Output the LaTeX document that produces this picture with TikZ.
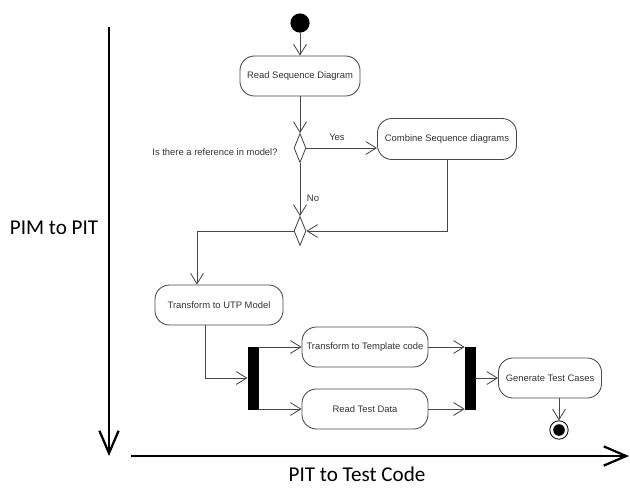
\documentclass[tikz,border=0pt]{standalone}
\usepackage{fontspec}
\setmainfont{Liberation Sans}
\newfontfamily\axisfont{Carlito}
\usetikzlibrary{arrows.meta,positioning,calc,shapes.geometric}
\colorlet{umlgray}{black!72}
\tikzset{
  action/.style={rectangle, rounded corners=3.6mm, draw=umlgray, line width=0.6pt, minimum height=10mm, inner sep=1pt, text=black!80, font=\fontsize{6.7}{8}\selectfont},
  decision/.style={diamond, draw=umlgray, line width=0.6pt, inner sep=0pt, minimum width=3mm, minimum height=7.25mm},
  bar/.style={rectangle, draw=black, fill=black, inner sep=0pt, minimum width=2.6mm, minimum height=15.5mm},
  startnode/.style={circle, fill=black, inner sep=0pt, minimum size=4.8mm},
  endnode/.style={circle, draw=black, line width=0.6pt, fill=white, inner sep=0pt, minimum size=4.6mm, path picture={\fill[black] (path picture bounding box.center) circle (1.45mm);}},
  arrow/.style={-{Straight Barb[length=2.6mm,width=3.2mm]}, line width=0.6pt, umlgray},
  flow/.style={line width=0.6pt, umlgray},
  axis/.style={-{Straight Barb[length=5.6mm,width=4.8mm,line width=1.6pt]}, line width=1.6pt, black},
  guard/.style={text=black!80, font=\fontsize{6.7}{8}\selectfont, inner sep=1pt},
  axislabel/.style={font=\axisfont\fontsize{15}{18}\selectfont, inner sep=0pt}
}

\begin{document}
\begin{tikzpicture}[x=0.025cm, y=-0.025cm]
  \useasboundingbox (0,0) rectangle (630,487);
  % activity nodes
  \node[startnode] (start) at (300,23) {};
  \node[action, minimum width=30mm] (rsd) at (300,76) {Read Sequence Diagram};
  \node[decision] (d1) at (300,148) {};
  \node[action, minimum width=34.75mm, minimum height=10.25mm] (comb) at (447,139) {Combine Sequence diagrams};
  \node[decision] (d2) at (300,231) {};
  \node[action, minimum width=32mm] (utp) at (219,305) {Transform to UTP Model};
  \node[bar] (fork) at (253,378) {};
  \node[action, minimum width=31.5mm] (tmpl) at (365,347) {Transform to Template code};
  \node[action, minimum width=31.5mm] (rtd) at (365,409) {Read Test Data};
  \node[bar, minimum width=2.5mm] (join) at (470,378) {};
  \node[action, minimum width=25.75mm] (gen) at (550,378) {Generate Test Cases};
  \node[endnode] (end) at (559,430) {};

  % guards
  \node[guard] (q) at (215,152) {Is there a reference in model?};
  \node[guard] (yes) at (337,137) {Yes};
  \node[guard] (no) at (313,198) {No};

  % control flow
  \draw[arrow] (start) -- (rsd);
  \draw[arrow] (rsd) -- (d1);
  \draw[arrow] (d1.east) -- (d1.east -| comb.west);
  \draw[arrow] (d1) -- (d2);
  \draw[arrow] (comb.south) |- (d2.east);
  \draw[arrow] (d2.west) -| ($(utp.north)+(-22,0)$);
  \draw[arrow] ($(utp.south)+(-14,0)$) |- (fork.west);
  \draw[arrow] (fork.east |- tmpl.west) -- (tmpl.west);
  \draw[arrow] (fork.east |- rtd.west) -- (rtd.west);
  \draw[arrow] (tmpl.east) -- (join.west |- tmpl.east);
  \draw[arrow] (rtd.east) -- (join.west |- rtd.east);
  \draw[arrow] (join.east) -- (gen.west);
  \draw[arrow] (gen.south -| end.north) -- (end.north);

  % axes
  \coordinate (vtop) at (109,27);
  \coordinate (vbot) at (109,456);
  \coordinate (hleft) at (131,456);
  \coordinate (hright) at (629,456);
  \draw[axis] (vtop) -- (vbot);
  \draw[axis] (hleft) -- (hright);
  \node[axislabel] (pim) at (54,228) {PIM to PIT};
  \node[axislabel] (pit) at (357,474) {PIT to Test Code};
\end{tikzpicture}
\end{document}
